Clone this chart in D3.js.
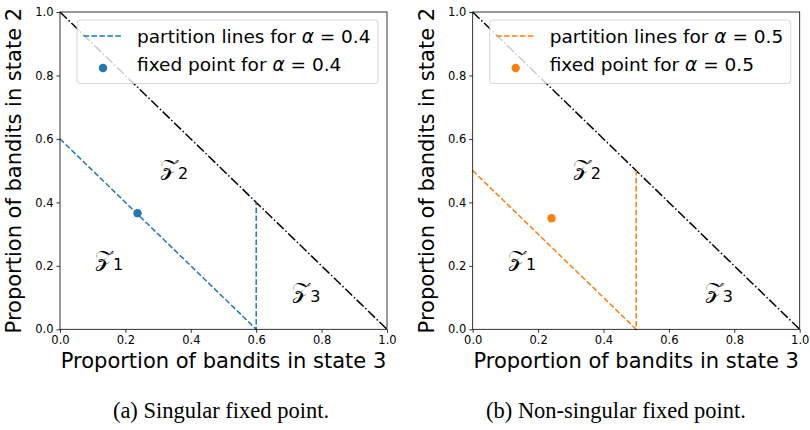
<!DOCTYPE html>
<html>
<head>
<meta charset="utf-8">
<script src="https://cdn.jsdelivr.net/npm/d3@7"></script>
<style>
  body { margin: 0; background: #fff; }
  svg { display: block; }
  text { font-family: "DejaVu Sans", sans-serif; fill: #000; }
</style>
</head>
<body>
<div id="chart"></div>
<script>
// values
var ticks = [0.0, 0.2, 0.4, 0.6, 0.8, 1.0];
var alphas = [0.4, 0.5];
var colors = ["#1f77b4", "#ff7f0e"];
// partition lines: diagonal down to the x axis then up to the simplex edge
var partX = [[0, 0.6, 0.6], [0, 0.5, 0.5]];
var partY = [[0.6, 0, 0.4], [0.5, 0, 0.5]];
var fixedX = [0.237, 0.241];
var fixedY = [0.366, 0.350];
var simplexX = [0, 1];
var simplexY = [1, 0];
var regionSub = ["1", "2", "3"];
var regionX = [[0.107, 0.306, 0.71], [0.108, 0.306, 0.71]];
var regionY = [[0.200, 0.485, 0.100], [0.200, 0.485, 0.100]];
var xTitle = "Proportion of bandits in state 3";
var yTitle = "Proportion of bandits in state 2";
var captions = ["(a) Singular fixed point.", "(b) Non-singular fixed point."];

var W = 810, H = 430;
var svg = d3.select("#chart").append("svg")
    .attr("width", W)
    .attr("height", H);

// left edge of each plot area
var panelLeft = [60, 472.7];
var plotW = 327, plotTop = 12, plotBottom = 329.3;

function drawPanel(k) {
    var x0 = panelLeft[k];
    var x = d3.scaleLinear().domain([0, 1]).range([x0, x0 + plotW]);
    var y = d3.scaleLinear().domain([0, 1]).range([plotBottom, plotTop]);
    var g = svg.append("g");

    var line = d3.line()
        .x(function (d) { return x(d[0]); })
        .y(function (d) { return y(d[1]); });

    // simplex edge, dash-dot
    g.append("path")
        .attr("d", line(d3.zip(simplexX, simplexY)))
        .attr("fill", "none")
        .attr("stroke", "#000")
        .attr("stroke-width", 1.5)
        .attr("stroke-dasharray", "9.6,2.4,1.5,2.4");

    // partition lines
    g.append("path")
        .attr("d", line(d3.zip(partX[k], partY[k])))
        .attr("fill", "none")
        .attr("stroke", colors[k])
        .attr("stroke-width", 1.5)
        .attr("stroke-dasharray", "5.55,2.4");

    // fixed point
    g.append("circle")
        .attr("cx", x(fixedX[k]))
        .attr("cy", y(fixedY[k]))
        .attr("r", 4.2)
        .attr("fill", colors[k]);

    // region labels Z1, Z2, Z3
    regionSub.forEach(function (s, i) {
        var t = g.append("text")
            .attr("x", x(regionX[k][i]))
            .attr("y", y(regionY[k][i]))
            .style("font-size", "23px");
        t.append("tspan")
            .style("font-family", "'DejaVu Serif', serif")
            .text("\u{1D4B5}");
        t.append("tspan")
            .attr("dy", 4)
            .style("font-size", "16px")
            .text(s);
    });

    // axes
    var xAxis = d3.axisBottom(x).tickValues(ticks).tickFormat(d3.format(".1f")).tickSize(3.5).tickPadding(3);
    var yAxis = d3.axisLeft(y).tickValues(ticks).tickFormat(d3.format(".1f")).tickSize(3.5).tickPadding(3);

    var gx = g.append("g")
        .attr("transform", "translate(0," + plotBottom + ")")
        .call(xAxis);
    var gy = g.append("g")
        .attr("transform", "translate(" + x0 + ",0)")
        .call(yAxis);
    [gx, gy].forEach(function (a) {
        a.select(".domain").remove();
        a.selectAll("text").style("font-size", "11.5px").style("font-family", "'DejaVu Sans', sans-serif");
        a.selectAll("line").attr("stroke", "#000").attr("stroke-width", 0.8);
    });

    // frame
    g.append("rect")
        .attr("x", x0)
        .attr("y", plotTop)
        .attr("width", plotW)
        .attr("height", plotBottom - plotTop)
        .attr("fill", "none")
        .attr("stroke", "#000")
        .attr("stroke-width", 0.8);

    // legend
    var lx = x0 + 17, ly = 20;
    var leg = g.append("g");
    leg.append("rect")
        .attr("x", lx)
        .attr("y", ly)
        .attr("width", 301)
        .attr("height", 63.5)
        .attr("rx", 3)
        .attr("fill", "#fff")
        .attr("fill-opacity", 0.8)
        .attr("stroke", "#cccccc")
        .attr("stroke-width", 0.8);
    leg.append("line")
        .attr("x1", lx + 6.5)
        .attr("x2", lx + 45)
        .attr("y1", ly + 16)
        .attr("y2", ly + 16)
        .attr("stroke", colors[k])
        .attr("stroke-width", 1.5)
        .attr("stroke-dasharray", "5.55,2.4");
    leg.append("circle")
        .attr("cx", lx + 26)
        .attr("cy", ly + 48)
        .attr("r", 4.2)
        .attr("fill", colors[k]);
    var labels = ["partition lines for ", "fixed point for "];
    labels.forEach(function (lab, i) {
        var t = leg.append("text")
            .attr("x", lx + 60)
            .attr("y", ly + 23 + i * 27.5)
            .style("font-size", "18.5px");
        t.append("tspan").text(lab);
        t.append("tspan").style("font-style", "italic").text("\u03B1");
        t.append("tspan").text(" = " + alphas[k].toFixed(1));
    });

    // axis titles
    g.append("text")
        .attr("x", x0 + plotW / 2)
        .attr("y", 368)
        .attr("text-anchor", "middle")
        .style("font-size", "21px")
        .text(xTitle);
    g.append("text")
        .attr("transform", "translate(" + (x0 - 39) + "," + ((plotTop + plotBottom) / 2) + ") rotate(-90)")
        .attr("text-anchor", "middle")
        .style("font-size", "21px")
        .text(yTitle);

    // caption
    g.append("text")
        .attr("x", k == 0 ? 221 : 616)
        .attr("y", 418)
        .attr("text-anchor", "middle")
        .style("font-family", "'Liberation Serif', serif")
        .style("font-size", "22.5px")
        .text(captions[k]);
}

drawPanel(0);
drawPanel(1);
</script>
</body>
</html>
